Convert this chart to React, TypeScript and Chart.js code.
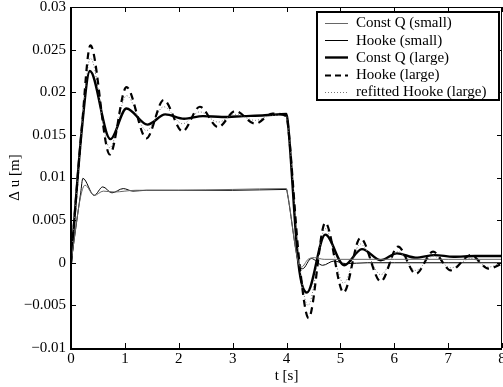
import React, { useEffect, useRef } from "react";
import { Chart, registerables } from "chart.js";

Chart.register(...registerables);

// ---- data ----
const tConstQSmall = [0, 0.18, 0.26, 0.43, 0.6, 0.8, 1.2, 2, 3, 4.0, 4.02, 4.22, 4.28, 4.4, 4.52, 4.7, 5, 6, 7, 8];
const vConstQSmall = [0, 0.0078, 0.0091, 0.0079, 0.0084, 0.0083, 0.0085, 0.0085, 0.0086, 0.0087, 0.0081, 0.0, -0.0005, 0.0004, 0.0006, 0.0004, 0.0004, 0.0004, 0.0004, 0.0004];

const tHookeSmall = [0, 0.18, 0.22, 0.43, 0.59, 0.76, 0.97, 1.15, 1.4, 2, 3, 4.0, 4.02, 4.22, 4.3, 4.46, 4.67, 4.88, 5.1, 5.5, 6, 7, 8];
const vHookeSmall = [0, 0.0082, 0.0099, 0.0079, 0.0089, 0.0082, 0.0087, 0.0084, 0.0085, 0.0085, 0.0085, 0.0086, 0.008, 0.0, -0.0007, 0.0005, -0.0003, 0.0002, -0.0001, 0.0, 0.0, 0.0, 0.0];

const tConstQLarge = [0, 0.2, 0.35, 0.73, 1.03, 1.42, 1.75, 2.1, 2.45, 2.8, 3.2, 3.6, 4.0, 4.03, 4.22, 4.38, 4.72, 5.07, 5.4, 5.75, 6.05, 6.4, 6.75, 7.1, 7.5, 8.0];
const vConstQLarge = [0, 0.0156, 0.0225, 0.0145, 0.0181, 0.0162, 0.0174, 0.0169, 0.0172, 0.0171, 0.0172, 0.0173, 0.01745, 0.0162, 0.0, -0.0035, 0.0033, -0.0003, 0.0016, 0.0003, 0.0011, 0.0006, 0.0009, 0.0007, 0.0008, 0.0008];

const tHookeLarge = [0, 0.2, 0.36, 0.72, 1.03, 1.4, 1.72, 2.07, 2.39, 2.73, 3.05, 3.42, 3.74, 4.0, 4.03, 4.24, 4.41, 4.72, 5.06, 5.37, 5.75, 6.07, 6.4, 6.72, 7.05, 7.42, 7.75, 8.0];
const vHookeLarge = [0, 0.0158, 0.0255, 0.0127, 0.0206, 0.0146, 0.0191, 0.0154, 0.0183, 0.0159, 0.0178, 0.0163, 0.0175, 0.0172, 0.016, 0.0, -0.0065, 0.0047, -0.0035, 0.0029, -0.0022, 0.0019, -0.0013, 0.0013, -0.0009, 0.0009, -0.0007, -0.0001];

const tRefitted = [0, 0.2, 0.36, 0.72, 1.03, 1.4, 1.72, 2.07, 2.39, 2.73, 3.05, 3.42, 3.74, 4.0, 4.03, 4.24, 4.4, 4.72, 5.06, 5.37, 5.75, 6.07, 6.4, 6.72, 7.05, 7.42, 7.75, 8.0];
const vRefitted = [0, 0.0157, 0.024, 0.0135, 0.0196, 0.0155, 0.0183, 0.0163, 0.0177, 0.0165, 0.0174, 0.0167, 0.0173, 0.0172, 0.016, 0.0, -0.005, 0.004, -0.0024, 0.0022, -0.0014, 0.0013, -0.0009, 0.0008, -0.0006, 0.0005, -0.0005, 0.0];

const seriesLabels = ["Const Q (small)", "Hooke (small)", "Const Q (large)", "Hooke (large)", "refitted Hooke (large)"];

const xMin = 0, xMax = 8, xStep = 1;
const yMin = -0.01, yMax = 0.03, yStep = 0.005;
const xTitle = "t [s]";
const yTitle = "\u0394 u [m]";

const FONT = "'Liberation Serif', 'Times New Roman', serif";

const pts = (t: number[], v: number[]) => t.map((x, i) => ({ x, y: v[i] }));

const fmtY = (v: number) => {
  if (Math.abs(v) < 1e-12) return "0";
  return String(+v.toFixed(3)).replace("-", "\u2212");
};

const framePlugin = {
  id: "frameTicks",
  afterDatasetsDraw(chart: any) {
    const { ctx, chartArea: a, scales } = chart;
    const xs = scales.x, ys = scales.y;
    ctx.save();
    ctx.strokeStyle = "#000";
    ctx.lineWidth = 1;
    const L = 5;
    ctx.beginPath();
    xs.ticks.forEach((tk: any) => {
      const px = Math.round(xs.getPixelForValue(tk.value)) + 0.5;
      ctx.moveTo(px, a.bottom);
      ctx.lineTo(px, a.bottom - L);
      ctx.moveTo(px, a.top);
      ctx.lineTo(px, a.top + L);
    });
    ys.ticks.forEach((tk: any) => {
      const py = Math.round(ys.getPixelForValue(tk.value)) + 0.5;
      ctx.moveTo(a.left, py);
      ctx.lineTo(a.left + L, py);
      ctx.moveTo(a.right, py);
      ctx.lineTo(a.right - L, py);
    });
    ctx.stroke();
    ctx.lineWidth = 1;
    ctx.beginPath();
    ctx.moveTo(a.left, a.top + 0.5);
    ctx.lineTo(a.right, a.top + 0.5);
    ctx.moveTo(a.right - 0.5, a.top);
    ctx.lineTo(a.right - 0.5, a.bottom);
    ctx.stroke();
    ctx.lineWidth = 2;
    ctx.beginPath();
    ctx.moveTo(a.left, a.top);
    ctx.lineTo(a.left, a.bottom + 1);
    ctx.lineTo(a.right, a.bottom + 1);
    ctx.stroke();
    ctx.restore();
  },
  afterDraw(chart: any) {
    const { ctx } = chart;
    const x0 = 317, y0 = 12, w = 182, h = 88;
    ctx.save();
    ctx.fillStyle = "#fff";
    ctx.fillRect(x0, y0, w, h);
    ctx.strokeStyle = "#000";
    ctx.lineWidth = 2;
    ctx.strokeRect(x0, y0, w, h);
    ctx.font = `15px ${FONT}`;
    ctx.textBaseline = "middle";
    ctx.textAlign = "left";
    const ordered = [...chart.data.datasets].sort((p: any, q: any) => p.legendOrder - q.legendOrder);
    ordered.forEach((ds: any, i: number) => {
      const y = 23 + i * 17.2;
      ctx.save();
      ctx.strokeStyle = ds.borderColor;
      ctx.lineWidth = ds.borderWidth;
      ctx.setLineDash(ds.legendDash || ds.borderDash || []);
      ctx.beginPath();
      ctx.moveTo(325, Math.round(y) + 0.5);
      ctx.lineTo(348, Math.round(y) + 0.5);
      ctx.stroke();
      ctx.restore();
      ctx.fillStyle = "#000";
      ctx.fillText(ds.label, 356, y + 0.5);
    });
    ctx.restore();
  },
};

export default function App() {
  const ref = useRef<HTMLCanvasElement | null>(null);
  useEffect(() => {
    if (!ref.current) return;
    const common = { pointRadius: 0, fill: false, cubicInterpolationMode: "monotone" as const };
    const chart = new Chart(ref.current, {
      type: "line",
      data: {
        datasets: [
          { ...common, legendOrder: 0, label: seriesLabels[0], data: pts(tConstQSmall, vConstQSmall), borderColor: "#666", borderWidth: 1 } as any,
          { ...common, legendOrder: 1, label: seriesLabels[1], data: pts(tHookeSmall, vHookeSmall), borderColor: "#000", borderWidth: 1 } as any,
          { ...common, legendOrder: 3, label: seriesLabels[3], data: pts(tHookeLarge, vHookeLarge), borderColor: "#000", borderWidth: 2.2, borderDash: [7, 5], legendDash: [6, 4] } as any,
          { ...common, legendOrder: 4, label: seriesLabels[4], data: pts(tRefitted, vRefitted), borderColor: "#777", borderWidth: 1, borderDash: [1, 2] } as any,
          { ...common, legendOrder: 2, label: seriesLabels[2], data: pts(tConstQLarge, vConstQLarge), borderColor: "#000", borderWidth: 2.4 } as any,
        ],
      },
      options: {
        responsive: false,
        animation: false,
        devicePixelRatio: 1,
        layout: { padding: { top: 7, right: 1, left: 0, bottom: 0 } },
        plugins: { legend: { display: false }, tooltip: { enabled: false } },
        scales: {
          x: {
            type: "linear",
            min: xMin,
            max: xMax,
            grid: { display: false, drawTicks: false },
            border: { display: false },
            ticks: { stepSize: xStep, color: "#000", font: { family: FONT, size: 15 }, padding: 2, maxRotation: 0 },
            title: { display: true, text: xTitle, color: "#000", font: { family: FONT, size: 15 }, padding: { top: 0, bottom: 2 } },
            afterFit: (s: any) => {
              s.height = 39;
              s.paddingLeft = 0;
              s.paddingRight = 0;
            },
          },
          y: {
            type: "linear",
            min: yMin,
            max: yMax,
            grid: { display: false, drawTicks: false },
            border: { display: false },
            ticks: { stepSize: yStep, color: "#000", font: { family: FONT, size: 15 }, padding: 5, callback: (v: any) => fmtY(Number(v)) },
            title: { display: true, text: yTitle, color: "#000", font: { family: FONT, size: 15 }, padding: { top: 6, bottom: 0 } },
            afterFit: (s: any) => {
              s.width = 71;
              s.paddingTop = 0;
              s.paddingBottom = 0;
            },
          },
        },
      },
      plugins: [framePlugin],
    });
    return () => chart.destroy();
  }, []);
  return (
    <div style={{ position: "fixed", left: 0, top: 0, width: 503, height: 387, background: "#fff" }}>
      <canvas ref={ref} width={503} height={387} style={{ display: "block" }} />
    </div>
  );
}
